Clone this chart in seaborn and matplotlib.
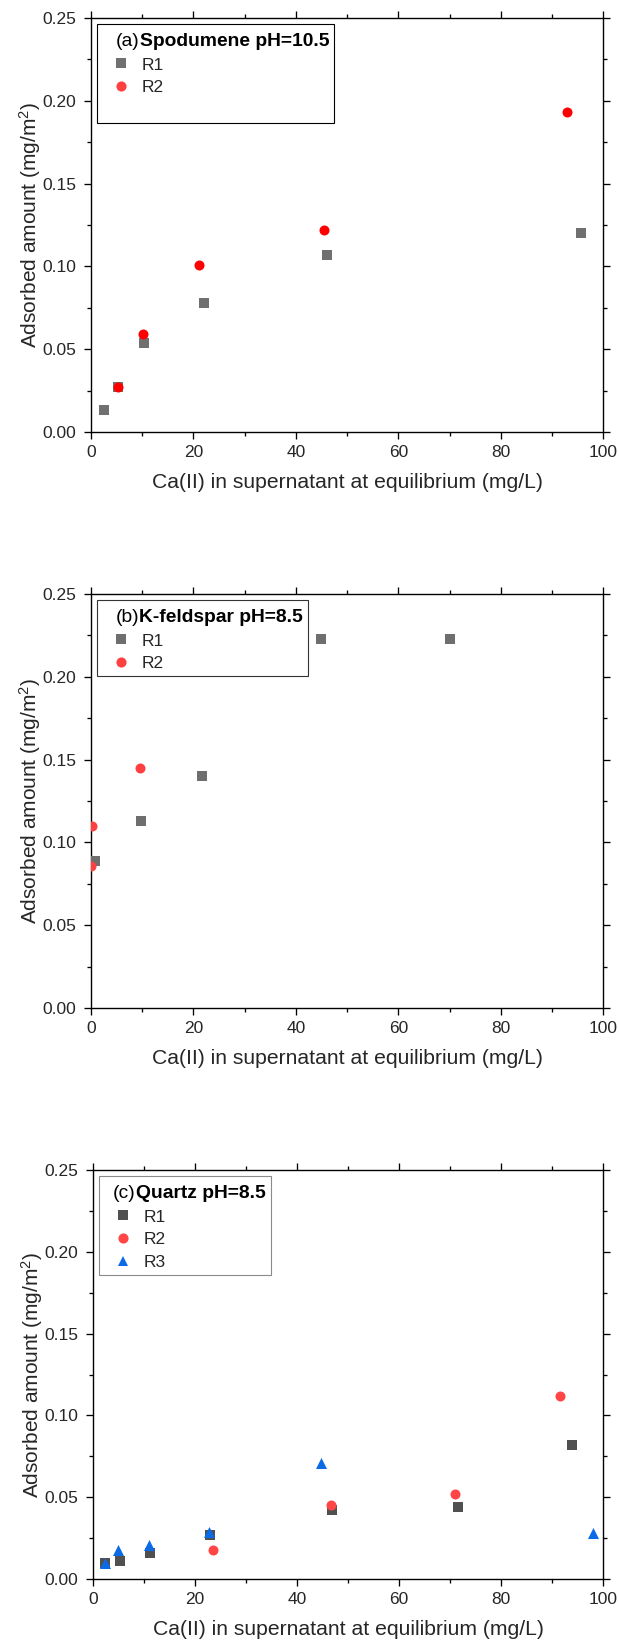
import matplotlib
matplotlib.use("Agg")
import matplotlib.pyplot as plt
import seaborn as sns
import pandas as pd
from matplotlib.lines import Line2D
from matplotlib.offsetbox import TextArea, HPacker, VPacker, DrawingArea
from matplotlib.ticker import MultipleLocator, FormatStrFormatter

# ---------------- data ----------------
spod_r1_x = [2.5, 5.3, 10.4, 22.1, 46.1, 95.6]
spod_r1_y = [0.013, 0.027, 0.054, 0.078, 0.107, 0.120]
spod_r2_x = [5.3, 10.2, 21.2, 45.4, 92.9]
spod_r2_y = [0.027, 0.059, 0.101, 0.122, 0.193]

kfs_r1_x = [0.8, 9.9, 21.8, 45.0, 70.0]
kfs_r1_y = [0.089, 0.113, 0.140, 0.223, 0.223]
kfs_r2_x = [0.3, 0.1, 9.7]
kfs_r2_y = [0.110, 0.086, 0.145]

qtz_r1_x = [2.5, 5.4, 11.3, 23.0, 46.8, 71.6, 93.8]
qtz_r1_y = [0.0095, 0.011, 0.016, 0.027, 0.042, 0.044, 0.082]
qtz_r2_x = [23.6, 46.6, 71.0, 91.5]
qtz_r2_y = [0.018, 0.045, 0.052, 0.112]
qtz_r3_x = [2.4, 5.0, 11.0, 22.8, 44.7, 98.0]
qtz_r3_y = [0.010, 0.018, 0.021, 0.029, 0.071, 0.028]

series_labels = ["R1", "R2", "R3"]
panel_tags = ["(a)", "(b)", "(c)"]
panel_titles = ["Spodumene pH=10.5", "K-feldspar pH=8.5", "Quartz pH=8.5"]
xlabel = "Ca(II) in supernatant at equilibrium (mg/L)"
ylabel = "Adsorbed amount (mg/m$^2$)"

# ---------------- style ----------------
sns.set_style("ticks")
plt.rcParams["font.family"] = ["Liberation Sans", "DejaVu Sans"]
plt.rcParams["mathtext.fontset"] = "custom"
plt.rcParams["mathtext.rm"] = "Liberation Sans"
plt.rcParams["mathtext.it"] = "Liberation Sans:italic"
plt.rcParams["mathtext.bf"] = "Liberation Sans:bold"

W, H = 619, 1645
fig = plt.figure(figsize=(W / 100, H / 100), dpi=100)

def frac(left, top, right, bottom):
    return [left / W, 1 - bottom / H, (right - left) / W, (bottom - top) / H]

axes_pos = [frac(90.7, 18, 603.5, 432), frac(90.7, 594, 603.5, 1008), frac(92.7, 1170, 603.3, 1579)]

S_SQ, S_O, S_TRI = 42, 52, 63
MS = {"s": 6.5, "o": 7.3, "^": 7.6}

panels = [
    [(spod_r1_x, spod_r1_y, "s", "#707070", "#707070", S_SQ),
     (spod_r2_x, spod_r2_y, "o", "#fe0000", "#ff4040", S_O)],
    [(kfs_r1_x, kfs_r1_y, "s", "#6e6e6e", "#6e6e6e", S_SQ),
     (kfs_r2_x, kfs_r2_y, "o", "#ff4040", "#ff4040", S_O)],
    [(qtz_r1_x, qtz_r1_y, "s", "#505050", "#505050", S_SQ),
     (qtz_r2_x, qtz_r2_y, "o", "#ff4545", "#ff4545", S_O),
     (qtz_r3_x, qtz_r3_y, "^", "#0b6ae6", "#0b6ae6", S_TRI)],
]
legend_edges = ["#000000", "#333333", "#8a8a8a"]
title_offsets = [9.9, 9.7, 6.3]
extra_blank = [True, False, False]

LEG_FS = 12.5
TITLE_FS = 13.9

for i, pos in enumerate(axes_pos):
    ax = fig.add_axes(pos)
    handles, labels = [], []
    for j, (xs, ys, mk, col, legcol, s) in enumerate(panels[i]):
        df = pd.DataFrame({"x": xs, "y": ys})
        sns.scatterplot(data=df, x="x", y="y", marker=mk, color=col, s=s,
                        linewidth=0, ax=ax, legend=False, zorder=3)
        handles.append(Line2D([], [], linestyle="none", marker=mk, markersize=MS[mk],
                              markerfacecolor=legcol, markeredgewidth=0))
        labels.append(series_labels[j])
    if extra_blank[i]:
        handles.append(Line2D([], [], linestyle="none"))
        labels.append(" ")

    ax.set_xlim(0, 100)
    ax.set_ylim(0, 0.25)
    ax.xaxis.set_major_locator(MultipleLocator(20))
    ax.xaxis.set_minor_locator(MultipleLocator(10))
    ax.yaxis.set_major_locator(MultipleLocator(0.05))
    ax.yaxis.set_minor_locator(MultipleLocator(0.025))
    ax.yaxis.set_major_formatter(FormatStrFormatter("%.2f"))
    ax.tick_params(which="both", direction="out", top=True, right=True,
                   labeltop=False, labelright=False, width=0.95, color="black")
    ax.tick_params(which="major", length=5.2, labelsize=12.5)
    ax.tick_params(axis="x", which="major", pad=4.3)
    ax.tick_params(axis="y", which="major", pad=5.0)
    ax.tick_params(which="minor", length=3.0)
    for sp in ax.spines.values():
        sp.set_linewidth(1.0)
        sp.set_color("black")
    ax.set_xlabel(xlabel, fontsize=15.2, labelpad=9.3)
    ax.set_ylabel(ylabel, fontsize=15, labelpad=0.0)

    leg = ax.legend(handles, labels, loc="upper left", title=panel_tags[i] + panel_titles[i],
                    title_fontsize=TITLE_FS, fontsize=LEG_FS, frameon=True, fancybox=False,
                    framealpha=1, borderaxespad=0.36, borderpad=0.3, labelspacing=0.43,
                    handlelength=2.22, handletextpad=0.08, alignment="left")
    leg.get_frame().set_edgecolor(legend_edges[i])
    leg.get_frame().set_linewidth(0.8)
    # mixed-weight title: normal tag + bold name, with a little space above
    spacer = DrawingArea(title_offsets[i], 1)
    t1 = TextArea(panel_tags[i], textprops=dict(fontsize=TITLE_FS, color="black"))
    t2 = TextArea(panel_titles[i], textprops=dict(fontsize=TITLE_FS, fontweight="bold", color="black"))
    hp = HPacker(children=[spacer, t1, t2], pad=0, sep=0, align="baseline")
    top_gap = DrawingArea(1, 2.5)
    vp = VPacker(children=[top_gap, hp], pad=0, sep=0, align="left")
    vp.set_figure(fig)
    leg._legend_box._children[0] = vp

fig.savefig("out.png", dpi=100)
